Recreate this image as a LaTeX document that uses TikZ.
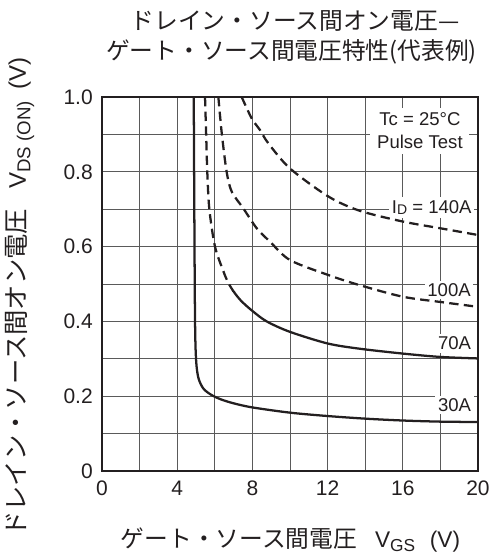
\documentclass[tikz,border=0pt]{standalone}
\usepackage{fontspec}
\setmainfont{Liberation Sans}
\newfontfamily\jpfont{Noto Sans CJK JP}
\usetikzlibrary{positioning}

\definecolor{ink}{HTML}{231F20}
\definecolor{gridgray}{HTML}{5A5A5A}
\newcommand{\lowsub}[2][13]{\raisebox{-0.35ex}{\fontsize{#1}{#1}\selectfont #2}}

\tikzset{
  gridline/.style={draw=gridgray, line width=0.7pt},
  frameline/.style={draw=ink, line width=1.6pt},
  curve/.style={draw=ink, line width=1.7pt},
  dcurve/.style={curve, dash pattern=on 7pt off 4pt},
  ticklbl/.style={font=\fontsize{15.75}{16}\selectfont, text=ink, inner sep=0pt},
  curvelbl/.style={font=\fontsize{13.9}{17.3}\selectfont, text=ink, fill=white, inner sep=2pt},
  jplbl/.style={font=\fontsize{17.8}{21}\selectfont, text=ink, inner sep=0pt},
  axlbl/.style={font=\fontsize{17}{20}\selectfont, text=ink, inner sep=0pt}
}

\begin{document}
\begin{tikzpicture}[x=0.75pt, y=-0.75pt]
\useasboundingbox (0,0) rectangle (492,558);
% title
\node[jplbl] (title1) at (295,21) {\jpfont ドレイン・ソース間オン電圧—};
\node[jplbl] (title2) at (291.5,52) {\jpfont ゲート・ソース間電圧特性(代表例)};
% axis titles
\node[axlbl] (xlab) at (290.5,540)
  {{\jpfont\fontsize{17.8}{21}\selectfont ゲート・ソース間電圧}\hspace{13.5pt}V\lowsub{GS}\hspace{11pt}(V)};
\node[axlbl, font=\fontsize{18}{20}\selectfont, rotate=90] (ylab) at (20,297)
  {{\jpfont\fontsize{19}{21}\selectfont ドレイン・ソース間オン電圧}\hspace{15pt}V\lowsub[14]{DS (ON)}\hspace{9pt}(V)};

\begin{scope}[shift={(76.5pt,-353.25pt)}, x=14.1pt, y=280.5pt]
\draw[gridline] (0,0) grid[xstep=2, ystep=0.1] (20,1);
% tick labels
\foreach \v in {0,4,...,20}
  \node[ticklbl] (xt\v) at (\v,-0.0455) {\v};
\foreach \t [count=\i from 0] in {0,0.2,0.4,0.6,0.8,1.0}
  \node[ticklbl, anchor=east] (yt\i) at (-0.48,\i*0.2) {\t};
% conditions and curve labels
\node[curvelbl, align=center, inner xsep=5pt, inner ysep=4pt] (cond) at (16.91,0.909)
  {Tc = 25°C\\Pulse Test};
\node[curvelbl] (id140) at (17.54,0.7045)
  {I\raisebox{-0.2ex}{\fontsize{10.5}{10}\selectfont D} = 140A};
\node[curvelbl] (id100) at (18.46,0.484) {100A};
\node[curvelbl] (id70) at (18.75,0.341) {70A};
\node[curvelbl] (id30) at (18.75,0.176) {30A};
% curves
\draw[curve] plot[smooth] coordinates {(4.88,1.0) (4.91,0.7) (4.94,0.45)
  (4.97,0.34) (5.03,0.28) (5.15,0.245) (5.4,0.22) (5.8,0.204) (6.3,0.192) (7,0.181)
  (8,0.17) (10,0.156) (12,0.147) (14,0.140) (16,0.135) (18,0.132) (20,0.131)};
% 70A: dashed above 0.48, solid below
\begin{scope}
\clip (0,0.48) rectangle (20,1);
\draw[dcurve] plot[smooth] coordinates {(5.48,1.0) (5.54,0.9) (5.6,0.8) (5.71,0.7)
  (6.01,0.6) (6.45,0.535) (6.7,0.505) (7.0,0.48) (7.4,0.455) (8,0.428) (8.76,0.40)
  (10,0.372) (12,0.341) (13.7,0.327) (16,0.314) (18,0.305) (20,0.301)};
\end{scope}
\begin{scope}
\clip (0,0) rectangle (20,0.48);
\draw[curve] plot[smooth] coordinates {(5.48,1.0) (5.54,0.9) (5.6,0.8) (5.71,0.7)
  (6.01,0.6) (6.45,0.535) (6.7,0.505) (7.0,0.48) (7.4,0.455) (8,0.428) (8.76,0.40)
  (10,0.372) (12,0.341) (13.7,0.327) (16,0.314) (18,0.305) (20,0.301)};
\end{scope}
\draw[dcurve] plot[smooth] coordinates {(6.19,1.0) (6.37,0.903) (6.63,0.8) (6.9,0.747)
  (7.52,0.702) (8.23,0.649) (8.94,0.613) (10,0.564) (12.04,0.524) (13.7,0.497)
  (16,0.466) (18,0.452) (20,0.439)};
\draw[dcurve] plot[smooth] coordinates {(7.43,1.0) (7.96,0.943) (8.4,0.912) (8.85,0.876)
  (10,0.809) (12.04,0.734) (13.7,0.696) (16,0.667) (18,0.649) (20,0.631)};
\draw[frameline] (0,0) rectangle (20,1);
\end{scope}
\end{tikzpicture}
\end{document}
